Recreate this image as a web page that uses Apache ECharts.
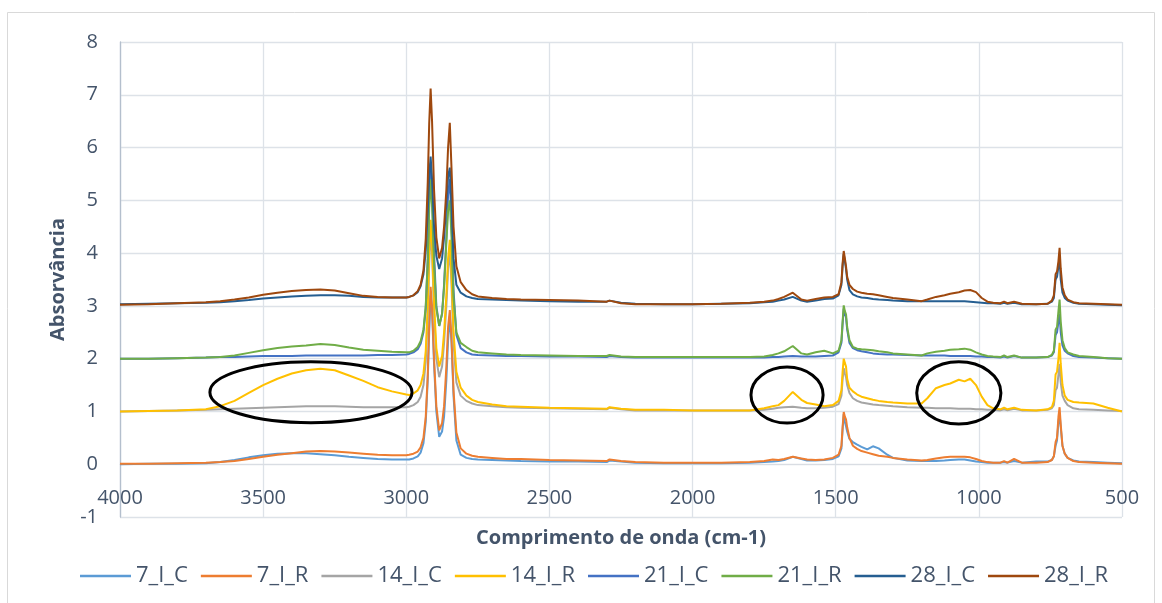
<!DOCTYPE html>
<html>
<head>
<meta charset="utf-8">
<script src="https://cdn.jsdelivr.net/npm/echarts@6/dist/echarts.min.js"></script>
<style>
html,body{margin:0;padding:0;background:#fff;}
#chart{width:1162px;height:603px;}
</style>
</head>
<body>
<div id="chart"></div>
<script>
// Wavenumber (cm-1) sample positions
const wavenumber = [
  4000,3900,3800,3700,3650,3600,3550,3500,3450,3400,
  3350,3300,3250,3200,3150,3100,3050,3000,2990,2975,
  2960,2950,2940,2932,2925,2920,2915,2910,2903,2895,
  2885,2875,2868,2860,2854,2848,2842,2835,2825,2810,
  2790,2770,2750,2700,2650,2600,2500,2400,2300,2290,
  2250,2200,2100,2000,1900,1800,1750,1720,1700,1680,
  1650,1620,1600,1570,1540,1510,1490,1480,1476,1472,
  1468,1464,1460,1452,1440,1425,1410,1390,1370,1350,
  1320,1300,1250,1200,1180,1150,1120,1100,1070,1050,
  1030,1010,990,970,950,925,912,900,877,850,
  800,760,745,738,732,727,722,718,714,708,
  700,690,670,650,600,550,500
];

const s7_I_C = [
  0.00,0.01,0.01,0.02,0.04,0.08,0.13,0.17,0.20,0.21,
  0.21,0.19,0.17,0.14,0.12,0.10,0.09,0.09,0.09,0.11,
  0.15,0.22,0.40,0.80,1.60,2.50,3.20,2.90,1.90,1.00,
  0.52,0.62,0.90,1.60,2.35,2.80,2.30,1.30,0.45,0.18,
  0.12,0.10,0.09,0.08,0.07,0.06,0.05,0.05,0.04,0.07,
  0.05,0.03,0.02,0.02,0.02,0.03,0.04,0.05,0.06,0.08,
  0.14,0.10,0.07,0.07,0.08,0.10,0.15,0.30,0.65,0.95,
  0.80,0.72,0.62,0.48,0.42,0.37,0.33,0.28,0.34,0.30,
  0.18,0.12,0.07,0.06,0.06,0.06,0.07,0.08,0.09,0.09,
  0.07,0.05,0.04,0.03,0.03,0.03,0.04,0.03,0.06,0.03,
  0.05,0.05,0.08,0.15,0.35,0.45,0.80,0.95,0.70,0.35,
  0.20,0.12,0.07,0.05,0.04,0.03,0.02
];
const s7_I_R = [
  0.01,0.01,0.02,0.03,0.04,0.06,0.10,0.14,0.18,0.21,
  0.24,0.25,0.24,0.22,0.20,0.18,0.17,0.17,0.18,0.20,
  0.24,0.32,0.50,0.90,1.70,2.70,3.36,3.00,2.00,1.10,
  0.64,0.78,1.10,1.85,2.60,2.92,2.40,1.40,0.60,0.30,
  0.20,0.16,0.14,0.12,0.10,0.10,0.08,0.07,0.06,0.09,
  0.06,0.04,0.03,0.03,0.03,0.04,0.06,0.09,0.08,0.10,
  0.14,0.11,0.09,0.08,0.09,0.12,0.18,0.35,0.70,0.99,
  0.90,0.85,0.70,0.50,0.35,0.29,0.25,0.22,0.19,0.16,
  0.14,0.12,0.09,0.07,0.08,0.11,0.13,0.14,0.14,0.14,
  0.13,0.10,0.06,0.04,0.03,0.03,0.06,0.03,0.10,0.03,
  0.03,0.04,0.08,0.15,0.42,0.50,0.90,1.08,0.75,0.35,
  0.20,0.12,0.06,0.04,0.03,0.02,0.01
];
const s14_I_C = [
  1.00,1.01,1.02,1.03,1.04,1.05,1.06,1.07,1.08,1.09,
  1.10,1.10,1.10,1.09,1.08,1.08,1.08,1.08,1.09,1.12,
  1.18,1.28,1.50,1.95,2.80,3.80,4.45,4.00,2.90,2.00,
  1.65,1.85,2.30,3.00,3.70,4.05,3.40,2.30,1.55,1.30,
  1.20,1.15,1.12,1.10,1.08,1.07,1.06,1.05,1.04,1.07,
  1.04,1.02,1.02,1.02,1.02,1.02,1.03,1.05,1.07,1.08,
  1.09,1.07,1.06,1.06,1.07,1.09,1.14,1.30,1.60,1.82,
  1.72,1.65,1.50,1.35,1.25,1.20,1.17,1.15,1.13,1.12,
  1.11,1.10,1.08,1.07,1.07,1.06,1.06,1.06,1.05,1.05,
  1.05,1.04,1.04,1.03,1.03,1.02,1.04,1.02,1.05,1.02,
  1.02,1.03,1.06,1.12,1.40,1.45,1.70,1.90,1.55,1.30,
  1.20,1.12,1.06,1.04,1.03,1.02,1.01
];
const s14_I_R = [
  1.00,1.01,1.02,1.04,1.10,1.20,1.35,1.50,1.62,1.72,
  1.78,1.81,1.78,1.68,1.58,1.46,1.38,1.32,1.31,1.34,
  1.40,1.50,1.72,2.15,3.00,4.00,4.63,4.15,3.05,2.20,
  1.85,2.05,2.50,3.20,3.90,4.25,3.60,2.50,1.75,1.45,
  1.30,1.22,1.18,1.13,1.10,1.09,1.07,1.06,1.05,1.08,
  1.05,1.03,1.03,1.02,1.02,1.02,1.06,1.10,1.12,1.20,
  1.37,1.22,1.16,1.13,1.10,1.12,1.20,1.40,1.75,2.00,
  1.92,1.85,1.62,1.45,1.38,1.32,1.28,1.25,1.22,1.20,
  1.18,1.17,1.15,1.15,1.25,1.44,1.50,1.53,1.60,1.57,
  1.62,1.50,1.28,1.12,1.06,1.04,1.07,1.04,1.07,1.03,
  1.02,1.04,1.08,1.20,1.70,1.75,2.00,2.30,1.90,1.50,
  1.30,1.22,1.18,1.17,1.15,1.07,1.00
];
const s21_I_C = [
  2.00,2.00,2.01,2.02,2.03,2.03,2.04,2.05,2.05,2.05,
  2.06,2.06,2.06,2.06,2.06,2.07,2.07,2.08,2.09,2.12,
  2.18,2.28,2.50,2.95,3.90,5.00,5.70,5.20,4.00,3.00,
  2.62,2.85,3.40,4.30,5.10,5.40,4.60,3.30,2.45,2.20,
  2.12,2.08,2.07,2.06,2.05,2.05,2.04,2.04,2.03,2.05,
  2.03,2.02,2.02,2.02,2.02,2.02,2.02,2.03,2.03,2.04,
  2.05,2.04,2.04,2.04,2.05,2.06,2.12,2.30,2.65,2.95,
  2.85,2.78,2.55,2.30,2.20,2.16,2.14,2.12,2.10,2.09,
  2.08,2.08,2.07,2.06,2.06,2.06,2.06,2.05,2.05,2.05,
  2.05,2.04,2.04,2.03,2.03,2.02,2.04,2.02,2.05,2.02,
  2.02,2.03,2.06,2.12,2.45,2.50,2.70,2.85,2.50,2.25,
  2.15,2.10,2.05,2.03,2.02,2.01,2.00
];
const s21_I_R = [
  2.00,2.00,2.01,2.02,2.03,2.06,2.11,2.16,2.20,2.23,
  2.25,2.28,2.26,2.21,2.17,2.15,2.13,2.12,2.12,2.15,
  2.22,2.33,2.55,3.00,3.85,4.85,5.40,4.90,3.80,2.95,
  2.62,2.85,3.35,4.20,4.80,5.00,4.30,3.15,2.50,2.30,
  2.22,2.15,2.12,2.10,2.08,2.07,2.06,2.05,2.05,2.07,
  2.04,2.03,2.03,2.03,2.03,2.03,2.04,2.07,2.10,2.14,
  2.24,2.10,2.08,2.12,2.15,2.10,2.15,2.35,2.70,3.01,
  2.90,2.84,2.60,2.35,2.22,2.19,2.18,2.17,2.16,2.14,
  2.12,2.10,2.08,2.06,2.10,2.13,2.15,2.17,2.18,2.19,
  2.17,2.12,2.08,2.05,2.04,2.03,2.06,2.03,2.06,2.02,
  2.02,2.03,2.07,2.15,2.55,2.60,2.90,3.12,2.70,2.35,
  2.20,2.12,2.08,2.05,2.03,2.01,2.00
];
const s28_I_C = [
  3.03,3.04,3.05,3.06,3.07,3.09,3.11,3.14,3.16,3.18,
  3.19,3.20,3.20,3.19,3.17,3.16,3.16,3.16,3.17,3.20,
  3.26,3.37,3.60,4.05,4.80,5.45,5.83,5.40,4.50,3.95,
  3.70,3.90,4.30,4.95,5.45,5.62,4.90,3.90,3.40,3.25,
  3.18,3.15,3.13,3.12,3.11,3.10,3.09,3.08,3.08,3.10,
  3.06,3.04,3.03,3.03,3.04,3.05,3.07,3.08,3.10,3.12,
  3.17,3.10,3.08,3.10,3.13,3.14,3.20,3.40,3.75,3.98,
  3.85,3.70,3.50,3.30,3.22,3.18,3.16,3.15,3.13,3.12,
  3.11,3.10,3.09,3.09,3.09,3.09,3.09,3.09,3.09,3.09,
  3.08,3.07,3.06,3.05,3.05,3.04,3.06,3.04,3.06,3.03,
  3.03,3.04,3.08,3.15,3.50,3.55,3.75,3.90,3.50,3.25,
  3.15,3.10,3.06,3.04,3.03,3.02,3.01
];
const s28_I_R = [
  3.02,3.03,3.05,3.07,3.09,3.12,3.16,3.21,3.25,3.28,
  3.30,3.31,3.29,3.24,3.19,3.17,3.16,3.16,3.17,3.20,
  3.28,3.40,3.67,4.27,5.34,6.45,7.12,6.50,5.20,4.30,
  3.90,4.10,4.50,5.20,6.00,6.47,5.60,4.50,3.75,3.45,
  3.30,3.22,3.18,3.15,3.13,3.12,3.11,3.10,3.08,3.10,
  3.05,3.03,3.03,3.03,3.04,3.06,3.08,3.10,3.13,3.17,
  3.25,3.12,3.10,3.13,3.16,3.17,3.22,3.45,3.80,4.04,
  3.90,3.75,3.55,3.40,3.32,3.27,3.25,3.23,3.22,3.20,
  3.17,3.15,3.12,3.09,3.12,3.17,3.20,3.23,3.26,3.29,
  3.30,3.26,3.15,3.08,3.06,3.05,3.08,3.05,3.08,3.04,
  3.03,3.04,3.10,3.20,3.60,3.65,3.85,4.10,3.70,3.35,
  3.20,3.12,3.07,3.05,3.04,3.03,3.02
];

const seriesNames = ['7_I_C','7_I_R','14_I_C','14_I_R','21_I_C','21_I_R','28_I_C','28_I_R'];
const seriesValues = [s7_I_C, s7_I_R, s14_I_C, s14_I_R, s21_I_C, s21_I_R, s28_I_C, s28_I_R];
const seriesColors = ['#5B9BD5','#ED7D31','#A5A5A5','#FFC000','#4472C4','#70AD47','#255E91','#9E480E'];

// Highlight ellipses (annotation): [center wavenumber, center absorbance, half-width cm-1, half-height]
const highlightEllipses = [
  [3333, 1.365, 353, 0.578],
  [1670, 1.31, 126, 0.53],
  [1070, 1.35, 147, 0.59]
];

const txt = '#44546A';
const font = 'Open Sans';

const lineSeries = seriesNames.map((name, k) => ({
  name: name,
  type: 'line',
  data: wavenumber.map((w, i) => [w, seriesValues[k][i]]),
  symbol: 'none',
  showSymbol: false,
  smooth: false,
  lineStyle: { width: 2, color: seriesColors[k] },
  itemStyle: { color: seriesColors[k] },
  emphasis: { disabled: true },
  animation: false,
  z: 2 + k
}));

const ellipseSeries = {
  name: 'destaque',
  type: 'custom',
  data: highlightEllipses,
  encode: { x: 0, y: 1 },
  silent: true,
  animation: false,
  z: 20,
  renderItem: function (params, api) {
    const c = api.coord([api.value(0), api.value(1)]);
    const s = api.size([api.value(2), api.value(3)]);
    return {
      type: 'ellipse',
      shape: { cx: c[0], cy: c[1], rx: Math.abs(s[0]), ry: Math.abs(s[1]) },
      style: { fill: 'none', stroke: '#000000', lineWidth: 3 }
    };
  }
};

const chart = echarts.init(document.getElementById('chart'), null, { renderer: 'canvas' });
chart.setOption({
  animation: false,
  backgroundColor: '#ffffff',
  graphic: [{
    type: 'rect',
    shape: { x: 7.5, y: 12.5, width: 1147, height: 600 },
    style: { fill: 'none', stroke: '#d9d9d9', lineWidth: 1 },
    silent: true, z: -10
  }],
  grid: { left: 120, right: 40, top: 42, bottom: 86, containLabel: false },
  xAxis: {
    type: 'value',
    min: 500, max: 4000, interval: 500,
    inverse: true,
    offset: -53,
    name: 'Comprimento de onda (cm-1)',
    nameLocation: 'middle',
    nameGap: 64,
    nameTextStyle: { color: txt, fontSize: 20, fontWeight: 'bold', fontFamily: font },
    axisLine: { show: true, onZero: false, lineStyle: { color: '#d9dde3', width: 1 } },
    axisTick: { show: false },
    axisLabel: { color: txt, fontSize: 20, fontFamily: font, margin: 24, formatter: function (v) { return String(v); } },
    splitLine: { show: true, lineStyle: { color: '#dde2e8', width: 1.3 } }
  },
  yAxis: {
    type: 'value',
    min: -1, max: 8, interval: 1,
    name: 'Absorvância',
    nameLocation: 'middle',
    nameGap: 52,
    nameRotate: 90,
    nameTextStyle: { color: txt, fontSize: 20, fontWeight: 'bold', fontFamily: font },
    axisLine: { show: true, lineStyle: { color: '#b4bfcd', width: 1.3 } },
    axisTick: { show: false },
    axisLabel: { color: txt, fontSize: 20, fontFamily: font, margin: 22, formatter: function (v) { return String(v); } },
    splitLine: { show: true, lineStyle: { color: '#dde2e8', width: 1.3 } }
  },
  legend: {
    data: seriesNames,
    left: 75,
    top: 560,
    icon: 'rect',
    itemWidth: 51,
    itemHeight: 2.5,
    itemGap: 13,
    textStyle: { color: txt, fontSize: 22, fontFamily: font, padding: [0, 0, 0, 0] },
    selectedMode: false
  },
  series: lineSeries.concat([ellipseSeries])
});
</script>
</body>
</html>
